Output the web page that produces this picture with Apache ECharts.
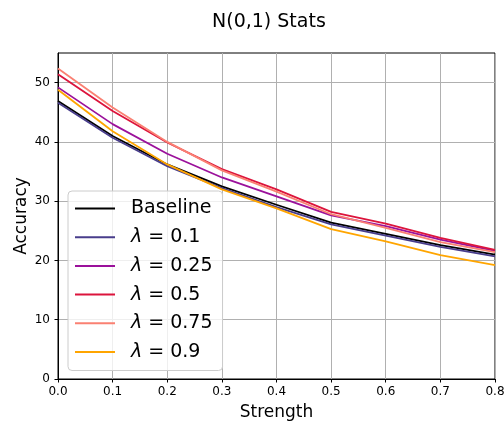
<!DOCTYPE html>
<html>
<head>
<meta charset="utf-8">
<script src="https://cdn.jsdelivr.net/npm/echarts@6/dist/echarts.min.js"></script>
<style>
  html, body { margin: 0; padding: 0; background: #fff; }
  #chart { width: 504px; height: 421px; }
</style>
</head>
<body>
<div id="chart"></div>
<script>
// ---- data ----
const strength = [0.0, 0.1, 0.2, 0.3, 0.4, 0.5, 0.6, 0.7, 0.8];
const seriesNames = ['Baseline', 'λ = 0.1', 'λ = 0.25', 'λ = 0.5', 'λ = 0.75', 'λ = 0.9'];
const baseline = [46.9, 41.0, 36.2, 32.5, 29.4, 26.4, 24.5, 22.6, 21.0];
const lambda01 = [46.6, 40.7, 35.9, 32.2, 29.0, 26.1, 24.2, 22.3, 20.7];
const lambda025 = [49.2, 43.0, 38.0, 34.0, 30.8, 27.6, 25.8, 23.5, 21.6];
const lambda05 = [51.4, 45.2, 39.9, 35.4, 32.0, 28.2, 26.2, 23.8, 21.8];
const lambda075 = [52.4, 45.8, 40.0, 35.2, 31.6, 27.8, 25.5, 23.1, 21.4];
const lambda09 = [48.8, 41.8, 36.2, 32.0, 28.8, 25.3, 23.2, 20.9, 19.2];
const yTicks = [0, 10, 20, 30, 40, 50];

const allValues = [baseline, lambda01, lambda025, lambda05, lambda075, lambda09];
const colors = ['#000000', '#483d8b', '#9b119b', '#dc143c', '#fa8072', '#ffa500'];
const FONT = 'DejaVu Sans';

const chart = echarts.init(document.getElementById('chart'), null, { renderer: 'canvas' });

const series = seriesNames.map((name, i) => ({
  name: name,
  type: 'line',
  data: strength.map((x, j) => [x, allValues[i][j]]),
  symbol: 'none',
  showSymbol: false,
  lineStyle: { color: colors[i], width: 1.8 },
  itemStyle: { color: colors[i] },
  z: 2 + i
}));

chart.setOption({
  animation: false,
  backgroundColor: '#fff',
  title: {
    text: 'N(0,1) Stats',
    left: 207,
    top: 8,
    textStyle: { fontFamily: FONT, fontSize: 19, fontWeight: 'normal', color: '#000' }
  },
  grid: {
    left: 58, right: 9, top: 53, bottom: 42,
    outerBoundsMode: 'none',
    containLabel: false,
    show: true, borderColor: '#000', borderWidth: 1, backgroundColor: 'transparent'
  },
  legend: {
    orient: 'vertical',
    left: 68,
    top: 191,
    padding: [8, 10, 9, 7],
    itemWidth: 40,
    itemHeight: 14,
    itemGap: 9.7,
    icon: 'path://M0,6 L40,6 L40,8 L0,8 Z',
    backgroundColor: 'rgba(255,255,255,0.8)',
    borderColor: '#cccccc',
    borderWidth: 1,
    borderRadius: 4,
    data: seriesNames,
    formatter: function (n) {
      if (n.charAt(0) === 'λ') return '{l|λ}{t|' + n.slice(1) + '}';
      return '{t|' + n + '}';
    },
    textStyle: {
      fontFamily: FONT, fontSize: 19, color: '#000', padding: [0, 0, 0, 11],
      rich: {
        l: { fontFamily: FONT, fontSize: 19, fontStyle: 'italic', color: '#000', lineHeight: 20 },
        t: { fontFamily: FONT, fontSize: 19, color: '#000', lineHeight: 20 }
      }
    }
  },
  xAxis: {
    type: 'value',
    min: 0, max: 0.8, interval: 0.1,
    name: 'Strength', nameLocation: 'middle', nameGap: 25, nameMoveOverlap: false,
    nameTextStyle: { fontFamily: FONT, fontSize: 17, color: '#000' },
    axisLine: { show: true, onZero: false, lineStyle: { color: '#000', width: 1 } },
    axisTick: { show: true, inside: false, length: 3.5, lineStyle: { color: '#000' } },
    axisLabel: {
      margin: 7, fontFamily: FONT, fontSize: 12, color: '#000',
      formatter: v => v.toFixed(1)
    },
    splitLine: { show: true, lineStyle: { color: '#b0b0b0', width: 1 } }
  },
  yAxis: {
    type: 'value',
    min: 0, max: 55, interval: 10,
    name: 'Accuracy', nameLocation: 'middle', nameGap: 28, nameRotate: 90, nameMoveOverlap: false,
    nameTextStyle: { fontFamily: FONT, fontSize: 17, color: '#000' },
    axisLine: { show: true, onZero: false, lineStyle: { color: '#000', width: 1 } },
    axisTick: { show: true, inside: false, length: 3.5, lineStyle: { color: '#000' }, customValues: yTicks },
    axisLabel: { margin: 8, fontFamily: FONT, fontSize: 12, color: '#000', customValues: yTicks },
    splitLine: { show: true, lineStyle: { color: '#b0b0b0', width: 1 } }
  },
  series: series
});
</script>
</body>
</html>
